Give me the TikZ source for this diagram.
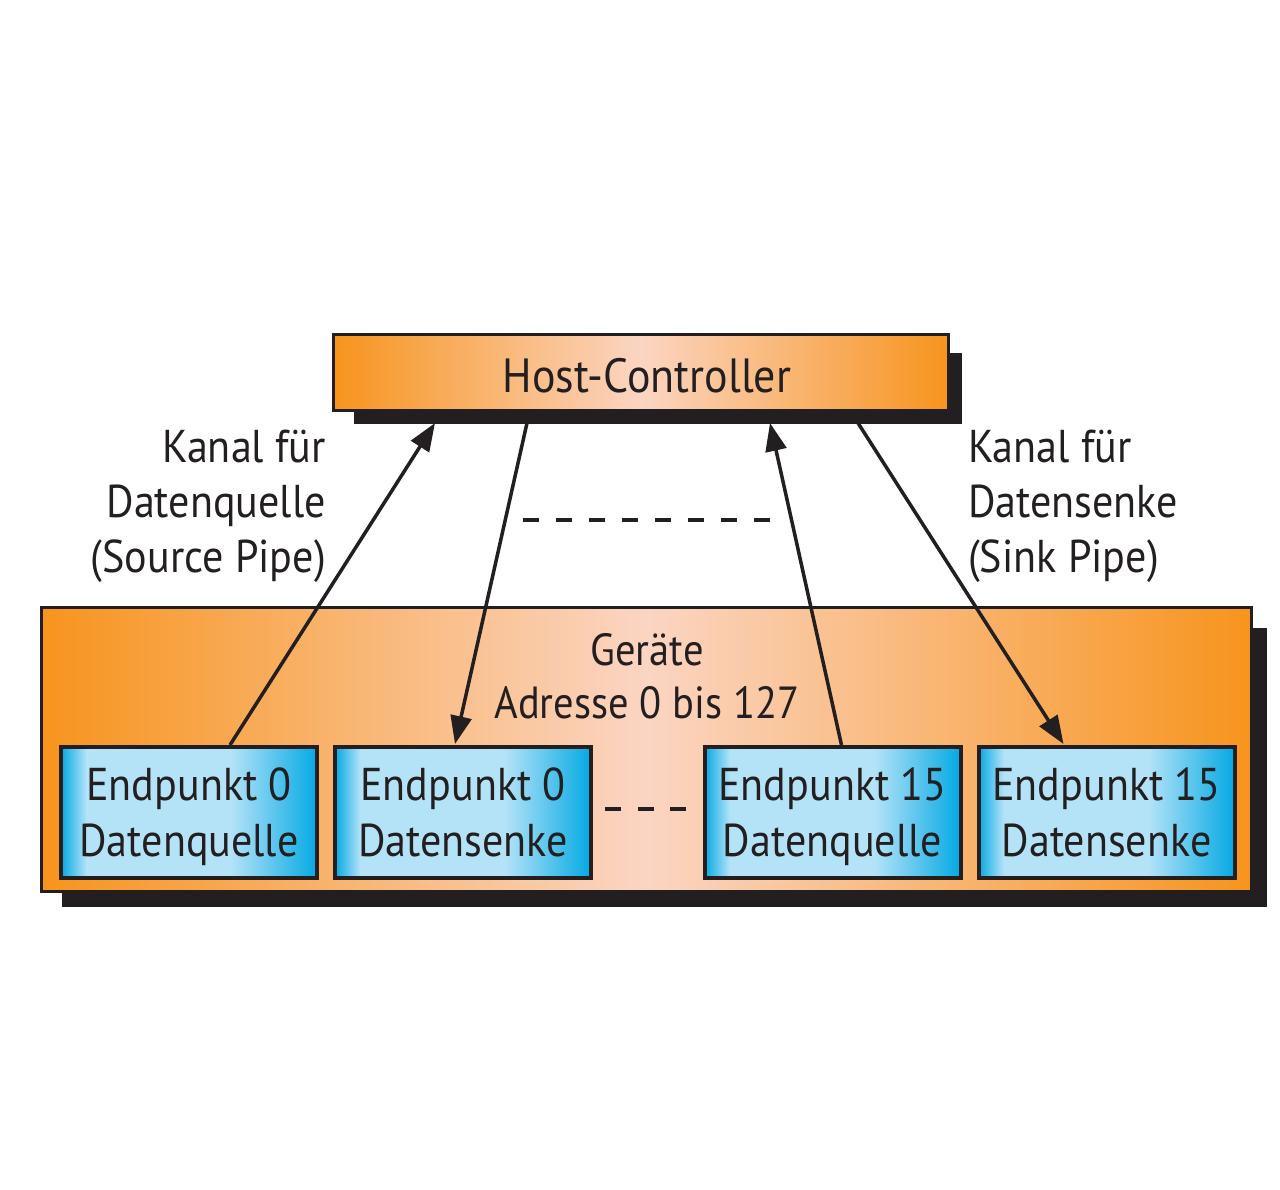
\documentclass[tikz,border=0pt]{standalone}
\usepackage{fontspec}
\setmainfont{PT Sans}[FakeStretch=0.915]
\usetikzlibrary{arrows.meta,calc,backgrounds}
\definecolor{orangeE}{HTML}{F7941D}
\definecolor{peach}{HTML}{FBD5C3}
\definecolor{blueE}{HTML}{05A9E3}
\definecolor{blueL}{HTML}{B4E3F8}
\definecolor{ink}{HTML}{231F20}
\pgfdeclarehorizontalshading{epshade}{100bp}{color(0bp)=(blueE); color(25bp)=(blueE); color(30bp)=(blueL); color(58bp)=(blueL); color(75bp)=(blueE); color(100bp)=(blueE)}
\begin{document}
\begin{tikzpicture}[x=1pt,y=-1pt,
  txt/.style={font=\fontsize{46}{55}\selectfont, text=ink},
  orangebox/.style={draw=ink, line width=3, left color=orangeE, right color=orangeE, middle color=peach, inner sep=0, txt},
  epbox/.style={draw=ink, line width=4, shading=epshade, minimum width=256, minimum height=131, inner sep=0, align=center, font=\fontsize{46}{56}\selectfont, text=ink, text height=97, text depth=10},
  conn/.style={draw=ink, line width=3.5, -{Triangle[length=28,width=21]}},
  dashline/.style={draw=ink, line width=4, dash pattern=on 16 off 17},
  shadowc/.style={fill=ink}]
\useasboundingbox (0,0) rectangle (1280,1190);

% boxes
\node[orangebox, minimum width=615, minimum height=76, font=\fontsize{48}{55}\selectfont, text height=44, text depth=5] (host) at (641,372.5) {\hspace*{12pt}Host-Controller};
\node[orangebox, minimum width=1210, minimum height=284] (dev) at (646.5,749.5) {};
\node[txt, anchor=base, align=center, inner sep=0, font=\fontsize{45}{53}\selectfont\addfontfeatures{FakeStretch=0.9}] (geraete) at (647,718) {Geräte\\Adresse 0 bis 127};

\node[epbox] (ep1) at (189,812.5) {Endpunkt 0\\Datenquelle};
\node[epbox] (ep2) at (463,812.5) {Endpunkt 0\\Datensenke};
\node[epbox] (ep3) at (832.5,812.5) {Endpunkt 15\\Datenquelle};
\node[epbox] (ep4) at (1106.5,812.5) {Endpunkt 15\\Datensenke};

% labels
\node[txt, anchor=base east, align=right, inner sep=0] (lsrc) at (326,572) {Kanal für\\Datenquelle\\(Source Pipe)};
\node[txt, anchor=base west, align=left, inner sep=0] (lsnk) at (968,572) {Kanal für\\Datensenke\\(Sink Pipe)};

% shadows
\begin{scope}[on background layer]
\fill[white] (0,0) rectangle (1280,1190);
\fill[shadowc] ($(host.south west)+(22,12)$) rectangle ($(host.north east)+(12,20)$);
\fill[shadowc] ($(dev.south west)+(22,14)$) rectangle ($(dev.north east)+(14,22)$);
\end{scope}

% connectors
\coordinate (hb) at ($(host.south)+(0,11)$);
\draw[conn] ($(ep1.north)+(41,0)$) -- ($(hb)+(-206,0)$);
\draw[conn] ($(hb)+(-114,0)$) -- ($(ep2.north)+(-8,-1)$);
\draw[conn] ($(ep3.north)+(9,0)$) -- ($(hb)+(129,0)$);
\draw[conn] ($(hb)+(217,0)$) -- ($(ep4.north)+(-43,-1)$);

% dashes
\draw[dashline] (523,520) -- (771,520);
\draw[dashline, dash pattern=on 16 off 16.5] ($(ep2.east)+(12,-4)$) -- ($(ep3.west)+(-13,-4)$);
\end{tikzpicture}
\end{document}
